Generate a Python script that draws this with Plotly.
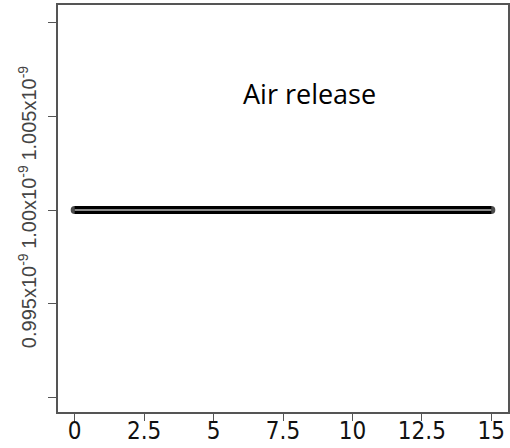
import plotly.graph_objects as go

x_vals = [0, 1, 2, 3, 4, 5, 6, 7, 8, 9, 10, 11, 12, 13, 14, 15]
y_vals = [1.0e-9] * 16

x_ticks = [0, 2.5, 5, 7.5, 10, 12.5, 15]
x_tick_text = ["0", "2.5", "5", "7.5", "10", "12.5", "15"]
y_ticks = [0.995e-9, 1.000e-9, 1.005e-9]
y_tick_text = ["0.995x10<sup>-9</sup>", "1.00x10<sup>-9</sup>", "1.005x10<sup>-9</sup>"]
y_tick_step = 0.005e-9

annotation_text = "Air release"

end_sizes = [8 if i in (0, len(x_vals) - 1) else 0 for i in range(len(x_vals))]

fig = go.Figure()
fig.add_trace(go.Scatter(x=x_vals, y=y_vals, mode="lines+markers",
                         line=dict(color="black", width=8),
                         marker=dict(color="black", size=end_sizes, line=dict(width=0)),
                         showlegend=False, hoverinfo="skip"))
fig.add_trace(go.Scatter(x=x_vals, y=y_vals, mode="lines",
                         line=dict(color="#8a8a8a", width=2),
                         showlegend=False, hoverinfo="skip"))

fig.add_annotation(x=8.45, y=1.0062e-9, text=annotation_text, showarrow=False,
                   font=dict(family="Open Sans, Liberation Sans, sans-serif", size=27, color="black"),
                   xanchor="center", yanchor="middle")

fig.update_layout(
    width=510, height=448, autosize=False,
    margin=dict(l=58, r=2, t=5, b=36, autoexpand=False),
    plot_bgcolor="white", paper_bgcolor="white",
    xaxis=dict(range=[-0.6, 15.6], tickvals=x_ticks, ticktext=x_tick_text,
               showgrid=False, zeroline=False, showline=True, mirror=True, automargin=False,
               linecolor="#555555", linewidth=1.5, ticks="outside", ticklen=7,
               tickcolor="#555555", tickwidth=1.2, ticklabelstandoff=-11,
               tickfont=dict(family="DejaVu Sans Condensed, sans-serif", size=24, color="#111111")),
    yaxis=dict(range=[0.98923e-9, 1.01093e-9], tickvals=y_ticks, ticktext=y_tick_text,
               showgrid=False, zeroline=False, showline=True, mirror=True, automargin=False,
               linecolor="#555555", linewidth=1.5, ticks="outside", ticklen=8,
               tickcolor="#555555", tickwidth=1.2, tickangle=-90, ticklabelstandoff=4,
               minor=dict(ticks="outside", ticklen=8, tickwidth=1.2, tickcolor="#555555",
                          tick0=y_ticks[0], dtick=y_tick_step, showgrid=False),
               tickfont=dict(family="Liberation Sans, Arial, sans-serif", size=20, color="#444444")),
)

fig.write_html("out.html")
